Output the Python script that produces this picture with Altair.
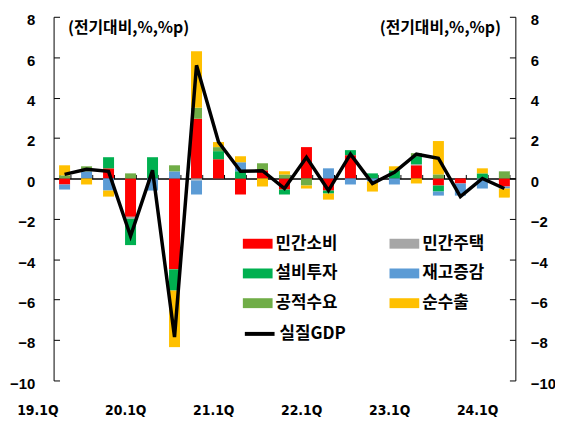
import altair as alt
import pandas as pd

quarters = ["19.1Q", "19.2Q", "19.3Q", "19.4Q", "20.1Q", "20.2Q", "20.3Q", "20.4Q",
            "21.1Q", "21.2Q", "21.3Q", "21.4Q", "22.1Q", "22.2Q", "22.3Q", "22.4Q",
            "23.1Q", "23.2Q", "23.3Q", "23.4Q", "24.1Q"]
x_labels = ["19.1Q", "20.1Q", "21.1Q", "22.1Q", "23.1Q", "24.1Q"]
components = ["민간소비", "민간주택", "설비투자", "재고증감", "공적수요", "순수출"]
colors = ["#FF0000", "#A6A6A6", "#00B050", "#5B9BD5", "#70AD47", "#FFC000"]
legend_order = ["민간소비", "설비투자", "공적수요", "민간주택", "재고증감", "순수출"]

private_consumption = [-0.3, 0.0, 0.5, -1.9, 0.0, -4.5, 2.95, 0.95, -0.8, 0.4, -0.55,
                       1.55, -0.6, 1.15, 0.0, 0.0, 0.65, -0.35, -0.25, 0.0, -0.4]
private_housing = [0.0, 0.0, 0.0, -0.1, 0.0, 0.0, -0.1, 0.0, 0.0, 0.0, 0.0,
                   0.0, 0.0, 0.0, 0.0, 0.0, 0.05, 0.0, 0.0, -0.05, 0.0]
equipment_invest = [0.0, 0.0, 0.55, -1.3, 1.05, -1.05, 0.0, 0.4, 0.35, 0.0, -0.25,
                    0.0, -0.15, 0.25, 0.25, 0.4, 0.4, -0.3, 0.0, 0.25, 0.0]
inventory_change = [-0.25, 0.35, -0.6, 0.0, -0.6, 0.35, -0.7, 0.0, 0.45, 0.0, 0.0,
                    0.0, 0.5, -0.3, -0.15, -0.3, 0.0, -0.2, -0.6, -0.45, -0.1]
public_demand = [0.15, 0.25, 0.0, 0.25, 0.0, 0.3, 0.55, 0.2, 0.0, 0.35, 0.2,
                 -0.35, 0.0, 0.0, 0.0, 0.0, 0.15, 0.2, 0.0, 0.0, 0.35]
net_exports = [0.5, -0.3, -0.3, 0.0, 0.0, -2.8, 2.8, 0.25, 0.3, -0.4, 0.15,
               -0.15, -0.3, 0.0, -0.5, 0.2, -0.25, 1.65, 0.0, 0.25, -0.45]
real_gdp = [0.2, 0.45, 0.35, -2.85, 0.4, -7.85, 5.6, 1.8, 0.35, 0.38, -0.5,
            1.05, -0.6, 1.2, -0.25, 0.3, 1.2, 1.0, -0.9, 0.0, -0.5]
y_ticks = [-10, -8, -6, -4, -2, 0, 2, 4, 6, 8]
y_domain = [-10, 8]
unit_title = "(전기대비,%,%p)"
gdp_name = "실질GDP"

series = [private_consumption, private_housing, equipment_invest,
          inventory_change, public_demand, net_exports]
rows = []
for ci, (name, vals) in enumerate(zip(components, series)):
    for q, v in zip(quarters, vals):
        rows.append({"quarter": q, "component": name, "value": v, "order": ci})
bar_df = pd.DataFrame(rows)
gdp_df = pd.DataFrame({"quarter": quarters, "gdp": real_gdp, "series": gdp_name})

color_map = dict(zip(components, colors))
legend_colors = [color_map[c] for c in legend_order]

W, H = 466, 367
zero_offset = -H * y_domain[1] / (y_domain[1] - y_domain[0])

LABEL_FONT = "Liberation Sans"
XFONT = "DejaVu Sans Condensed, Liberation Sans"
KFONT = "Noto Sans CJK KR"

x_scale = alt.Scale(domain=quarters, paddingInner=0.5, paddingOuter=0.25)
y_scale = alt.Scale(domain=y_domain, nice=False, zero=False)

bars = alt.Chart(bar_df).mark_bar().encode(
    x=alt.X("quarter:N", scale=x_scale, sort=quarters,
            axis=alt.Axis(orient="bottom", values=x_labels, labelAngle=0, ticks=False,
                          domain=False, labelPadding=23, labelOffset=-27,
                          labelFont=XFONT, labelFontSize=14,
                          labelFontWeight="bold", labelColor="black", title=None,
                          grid=False)),
    y=alt.Y("value:Q", stack="zero", scale=y_scale,
            axis=alt.Axis(orient="left", values=y_ticks, ticks=False, domain=True,
                          domainColor="black", domainWidth=1, labelPadding=19,
                          labelFont=LABEL_FONT, labelFontSize=15, labelFontWeight="bold",
                          labelColor="black", labelOffset=3, grid=False,
                          title=unit_title, titleAngle=0, titleX=14, titleY=11,
                          titleAlign="left", titleBaseline="middle", titleFont=KFONT,
                          titleFontSize=16, titleFontWeight="bold", titleColor="black")),
    color=alt.Color("component:N", scale=alt.Scale(domain=legend_order, range=legend_colors),
                    legend=alt.Legend(orient="none", legendX=191, legendY=214, columns=2,
                                      symbolType="M-1,-0.333H1V0.333H-1Z", symbolSize=900,
                                      symbolStrokeWidth=0, labelFont=KFONT, labelFontSize=17,
                                      labelFontWeight="bold", labelColor="black",
                                      columnPadding=52, rowPadding=7, labelOffset=3,
                                      padding=0, title=None)),
    order=alt.Order("order:Q"),
)

line = alt.Chart(gdp_df).mark_line(strokeWidth=3.5).encode(
    x=alt.X("quarter:N", scale=x_scale, sort=quarters,
            axis=alt.Axis(orient="top", offset=zero_offset, labels=False, ticks=True,
                          tickSize=4, tickBand="extent", tickColor="black", domain=True,
                          domainColor="black", domainWidth=1.5, title=None, grid=False)),
    y=alt.Y("gdp:Q", scale=y_scale,
            axis=alt.Axis(orient="right", values=y_ticks, ticks=False, domain=True,
                          domainColor="black", labelPadding=15, labelAlign="left",
                          labelFont=LABEL_FONT, labelFontSize=15, labelFontWeight="bold",
                          labelColor="black", labelOffset=3, grid=False,
                          title=unit_title, titleAngle=0, titleX=-15, titleY=11,
                          titleAlign="right", titleBaseline="middle", titleFont=KFONT,
                          titleFontSize=16, titleFontWeight="bold", titleColor="black")),
    stroke=alt.Stroke("series:N", scale=alt.Scale(domain=[gdp_name], range=["black"]),
                      legend=alt.Legend(orient="none", legendX=191, legendY=303,
                                        symbolType="stroke", symbolSize=900,
                                        symbolStrokeWidth=4, labelFont=KFONT,
                                        labelFontSize=17, labelFontWeight="bold",
                                        labelColor="black", labelOffset=3, padding=0,
                                        title=None)),
)

inner_left = alt.Chart(gdp_df).mark_point(opacity=0).encode(
    x=alt.X("quarter:N", scale=x_scale, sort=quarters, axis=None),
    y=alt.Y("gdp:Q", scale=y_scale,
            axis=alt.Axis(orient="right", offset=-W, values=y_ticks, labels=False,
                          domain=False, ticks=True, tickSize=6, tickColor="black",
                          title=None, grid=False)),
)

inner_right = alt.Chart(gdp_df).mark_point(opacity=0).encode(
    x=alt.X("quarter:N", scale=x_scale, sort=quarters, axis=None),
    y=alt.Y("gdp:Q", scale=y_scale,
            axis=alt.Axis(orient="left", offset=-W, values=y_ticks, labels=False,
                          domain=False, ticks=True, tickSize=6, tickColor="black",
                          title=None, grid=False)),
)

chart = alt.layer(bars, line, inner_left, inner_right).resolve_axis(
    x="independent", y="independent"
).properties(
    width=W, height=H,
    autosize=alt.AutoSizeParams(type="none"),
    padding={"left": 46, "top": 7, "right": 40, "bottom": 35},
    background="white",
).configure_view(stroke=None)

chart.save("out.html", embed_options={"renderer": "svg", "actions": False})
